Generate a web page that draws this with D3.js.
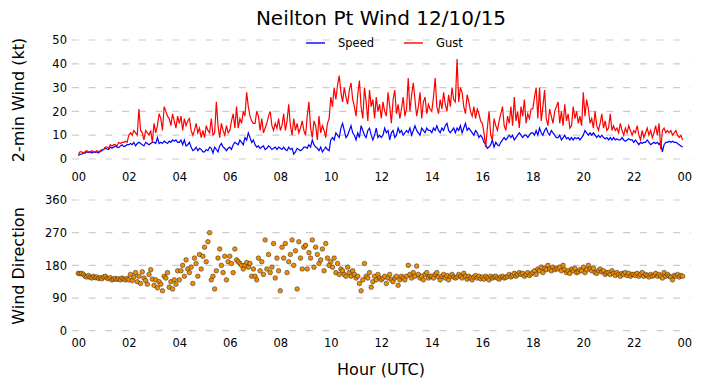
<!DOCTYPE html>
<html><head><meta charset="utf-8">
<script src="https://cdn.jsdelivr.net/npm/d3@7"></script>
<style>
body{margin:0;background:#fff;}
text{font-family:"DejaVu Sans",sans-serif;}
</style></head>
<body><svg id="c" width="702" height="388"></svg>
<script>
// Data: 4-minute samples over 24 hours (15 per hour)
const speed = [
1.5,2,2,2.5,2.5,3,2.8,3,2.5,3,2.8,3,2.5,3.2,3.5,
4,4.5,4.2,4,5,4.5,5,5.5,5,4.8,5.5,6,5.2,5.5,6,
6,6.5,6,7,5.5,6.5,7,6.5,6,5.5,7,6.5,6,6.5,7,
7,6.5,9,6.5,7,6.5,7.5,7,6.5,7.5,7,8,7.5,8,7,
7,8,6,8,5.5,6,7,5,3.5,4,5,3.5,4.5,4,3,
3,4,3.5,5,4.5,2.5,5,4,3,5.5,6.5,5,4.5,3.5,4.5,
5,4,6,7,6.5,6,8,7,6,9,8,11,9,7,8,
6,5,5.5,4.5,5,5.5,4,4.5,5.5,5,4,4.5,5,4,5,
4.5,4,5,4,3.5,5,4,4.5,2,3,4.5,4,3.5,4,5,
5,4.5,6,5,8,6,5,4.5,3.5,5,3,4,5,4,3.5,
8,9,8,11,10,9,13,15,12,9,10,12,14,11,10,
8,11,9,14,12,10,9,12,13,10,8,10,13,9,10,
9,10,13,11,12,8,11,12,9,10,13,11,12,10,11,
12,11,13,10,12,14,12,11,10,13,12,11,13,12,12,
11,13,12,14,12,11,13,12,14,15,12,11,12,13,11,
13,12,14,11,13,15,12,13,12,11,10,12,11,9,10,
9,7,6,4.5,5,6,8,5,7,6,5.5,7,8,9,8,
9,10,9,10,8,9,10,11,10,9,10,10,9,10,11,
11,10,12,10,13,11,10,12,13,11,10,12,11,10,9,
9,10,8,9,10,8.5,9,8,9,8,9,8.5,9,8,9,
10,12,11,10,11,10,11,10,9,10,9,10,9,8.5,9,
8,9,8,9,8,8.5,8,8,9,8,7.5,8,8.5,8,8,
7,8,7,6,7,6.5,7,7,8,7,6,6.5,7,6.5,7,
6,7,3,6,7,7,7.5,7,7.5,7,7,6.5,6,5.5,5
];
const gust = [
2,3,3,2.5,3,3.5,3,3,3.5,3,3,3.5,3,3.5,4,
4,5,5,4.5,6,5.5,6,6,5.5,7,6.5,7,7,7.5,7,
10,11,10,12,11,10,21,12,11,8,12,11,10,12,7,
15,11,14,19,17,12,22,20,18,17,14,19,16,13,18,
15,18,12,17,14,16,17,12,10,12,15,11,13,9,12,
9,14,12,11,17,10,11,24,14,9,15,12,10,14,11,
12,16,19,13,22,13,17,15,20,18,28,22,18,16,15,
15,20,18,12,17,11,13,15,18,20,14,12,15,13,17,
12,14,19,12,16,23,14,10,17,12,15,11,13,16,12,
10,18,24,13,9,16,14,8,18,11,14,12,9,15,17,
26,22,30,25,31,35,28,24,30,26,23,29,32,25,22,
18,27,33,22,17,30,24,16,29,22,25,17,26,20,23,
17,24,20,18,28,22,15,25,29,19,23,17,21,26,18,
21,34,20,27,32,25,18,22,28,17,24,26,19,23,21,
20,26,34,22,19,25,21,28,23,20,27,22,30,25,24,
42,24,30,28,22,19,27,24,20,18,22,17,21,19,16,
15,11,5,13,20,10,8,17,14,12,16,19,22,14,12,
18,15,22,14,26,16,20,13,22,18,25,15,19,17,21,
21,26,30,17,30,16,22,29,17,14,21,18,15,20,22,
24,15,20,14,23,16,19,13,14,22,17,20,15,18,14,
28,18,25,21,15,17,13,20,14,12,15,19,13,16,12,
13,19,12,14,12,13,11,15,12,10,13,11,14,12,10,
12,11,14,10,8,12,9,11,13,10,12,9,11,14,10,
15,4,12,13,11,12,11,12,10,11,12,10,9,10,8
];
const direction = [
158,157,158,155,150,148,152,147,145,150,146,148,144,146,143,
148,150,145,143,146,140,142,144,141,143,140,145,142,140,144,
140,155,138,148,160,135,150,130,162,145,138,128,155,168,142,
125,140,118,135,128,110,150,145,160,120,135,115,140,128,165,
140,165,180,150,195,170,160,175,130,200,185,150,210,170,205,
230,190,245,270,140,150,115,165,200,225,180,160,205,140,190,
205,185,160,225,195,190,185,180,170,180,188,175,185,150,170,
150,140,200,165,190,155,250,170,210,160,175,240,145,200,165,
110,230,200,240,160,190,210,250,180,220,115,245,200,170,230,
235,170,215,200,250,175,230,210,185,195,225,165,240,200,180,
190,175,200,160,185,155,170,165,155,150,175,160,150,165,155,
145,150,130,110,140,185,150,145,160,120,135,150,140,155,145,
140,145,150,130,145,155,140,135,145,150,125,140,150,145,140,
150,180,155,145,160,150,178,155,145,150,140,155,160,145,150,
150,145,155,160,148,140,150,155,145,152,140,150,155,148,145,
148,155,150,145,158,150,142,150,145,140,148,152,145,150,143,
148,142,150,145,140,150,145,148,150,145,142,148,150,145,147,
150,155,148,152,158,150,155,160,155,158,150,155,160,152,156,
160,165,155,170,165,175,160,172,168,180,170,165,175,168,172,
170,175,165,180,168,160,165,158,170,165,172,160,162,168,165,
175,160,168,180,170,165,172,160,158,165,170,162,165,155,160,
160,155,165,158,152,160,155,150,158,155,160,152,158,150,155,
155,152,158,150,155,160,150,155,152,148,155,150,153,158,150,
155,150,145,160,150,155,150,148,140,152,150,155,148,152,150
];
const samplesPerHour = 15;
const hourTicks = [0,2,4,6,8,10,12,14,16,18,20,22,24];
const speedTicks = [0,10,20,30,40,50];
const dirTicks = [0,90,180,270,360];
const seriesNames = ["Speed","Gust"];
const title = "Neilton Pt Wind 12/10/15";

const svg = d3.select("#c");
const hours = speed.map((_, i) => i / samplesPerHour);

const x = d3.scaleLinear().domain([-0.25, 24.25]).range([72, 690.6]);
const yTop = d3.scaleLinear().domain([0, 50]).range([159, 40]);
const yBot = d3.scaleLinear().domain([0, 360]).range([330.7, 200]);
const fmtHour = h => d3.format("02d")(h % 24);

function grid(ys, ticks) {
  svg.append("g").selectAll("line").data(ticks).join("line")
    .attr("x1", x.range()[0]).attr("x2", x.range()[1])
    .attr("y1", d => ys(d)).attr("y2", d => ys(d))
    .attr("stroke", "#cccccc").attr("stroke-width", 1.2)
    .attr("stroke-dasharray", "7,9.7");
}
function styleAxis(g) {
  g.select(".domain").remove();
  g.selectAll("text").attr("font-size", 11.5).attr("fill", "#000")
    .attr("font-family", "DejaVu Sans");
}

grid(yTop, speedTicks);
grid(yBot, dirTicks);

// Axes
svg.append("g").attr("transform", "translate(0,173)")
  .call(d3.axisBottom(x).tickValues(hourTicks).tickFormat(fmtHour).tickSize(0).tickPadding(0))
  .call(styleAxis);
svg.append("g").attr("transform", "translate(0,339)")
  .call(d3.axisBottom(x).tickValues(hourTicks).tickFormat(fmtHour).tickSize(0).tickPadding(0))
  .call(styleAxis);
svg.append("g").attr("transform", "translate(72,0)")
  .call(d3.axisLeft(yTop).tickValues(speedTicks).tickSize(0).tickPadding(5))
  .call(styleAxis);
svg.append("g").attr("transform", "translate(72,0)")
  .call(d3.axisLeft(yBot).tickValues(dirTicks).tickSize(0).tickPadding(5))
  .call(styleAxis);

// Lines
const lineTop = d3.line().x((d, i) => x(hours[i])).y(d => yTop(d));
svg.append("path").datum(speed).attr("d", lineTop)
  .attr("fill", "none").attr("stroke", "#0000ff").attr("stroke-width", 1.2);
svg.append("path").datum(gust).attr("d", lineTop)
  .attr("fill", "none").attr("stroke", "#ff0000").attr("stroke-width", 1.2);

// Scatter
svg.append("g").selectAll("circle").data(direction).join("circle")
  .attr("cx", (d, i) => x(hours[i])).attr("cy", d => yBot(d))
  .attr("r", 2.3).attr("fill", "#f08c00")
  .attr("stroke", "#222").attr("stroke-width", 0.5);

// Legend
const legend = svg.append("g");
const legendItems = [{name: seriesNames[0], color: "#0000ff", x: 306}, {name: seriesNames[1], color: "#ff0000", x: 404}];
legendItems.forEach(it => {
  legend.append("line").attr("x1", it.x).attr("x2", it.x + 19).attr("y1", 43).attr("y2", 43)
    .attr("stroke", it.color).attr("stroke-width", 1.4);
  legend.append("text").attr("x", it.x + 32).attr("y", 47).attr("font-size", 11.5).text(it.name);
});

// Titles and labels
svg.append("text").attr("x", 381).attr("y", 25).attr("text-anchor", "middle")
  .attr("font-size", 20).text(title);
svg.append("text").attr("transform", "translate(24,100) rotate(-90)").attr("text-anchor", "middle")
  .attr("font-size", 16).text("2-min Wind (kt)");
svg.append("text").attr("transform", "translate(24,266) rotate(-90)").attr("text-anchor", "middle")
  .attr("font-size", 16).text("Wind Direction");
svg.append("text").attr("x", 381).attr("y", 375).attr("text-anchor", "middle")
  .attr("font-size", 16).text("Hour (UTC)");
</script></body></html>
